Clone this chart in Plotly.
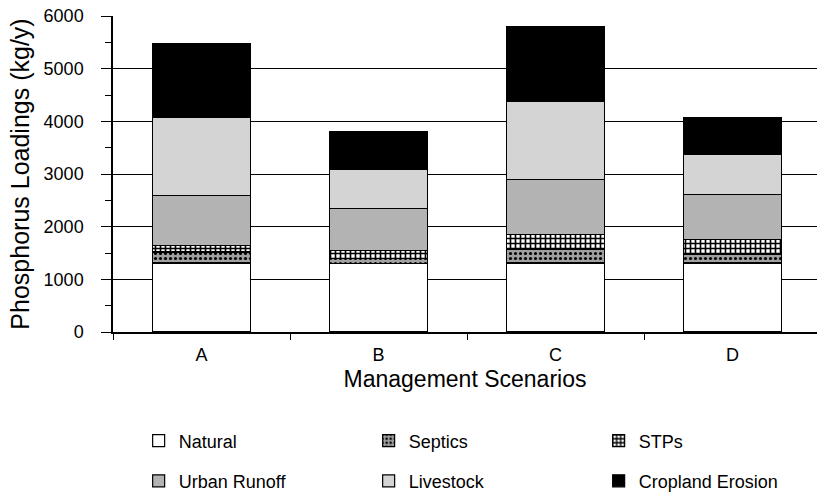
import plotly.graph_objects as go

scenarios = ["A", "B", "C", "D"]
natural = [1310, 1300, 1310, 1310]
septics = [210, 100, 250, 155]
stps = [125, 155, 290, 295]
urban_runoff = [945, 785, 1040, 855]
livestock = [1490, 740, 1495, 760]
cropland_erosion = [1400, 720, 1405, 705]

y_tickvals = [0, 1000, 2000, 3000, 4000, 5000, 6000]
x_title = "Management Scenarios"
y_title = "Phosphorus Loadings (kg/y)"

FONT = "Liberation Sans, Arial, sans-serif"
LINE = dict(color="black", width=1.2)

series = [
    ("Natural", natural, dict(color="white"), "legend"),
    ("Septics", septics, dict(color="#a0a0a0", pattern=dict(shape=".", fgcolor="black", bgcolor="#a0a0a0", size=5, solidity=0.3, fillmode="replace")), "legend"),
    ("STPs", stps, dict(color="white", pattern=dict(shape="+", fgcolor="black", bgcolor="white", size=5, solidity=0.55, fillmode="replace")), "legend"),
    ("Urban Runoff", urban_runoff, dict(color="#b3b3b3"), "legend2"),
    ("Livestock", livestock, dict(color="#d4d4d4"), "legend2"),
    ("Cropland Erosion", cropland_erosion, dict(color="black"), "legend2"),
]

fig = go.Figure()
for name, vals, marker, lg in series:
    m = dict(marker)
    m["line"] = LINE
    fig.add_trace(go.Bar(x=scenarios, y=vals, name=name, marker=m, width=0.55, legend=lg))

n = len(scenarios)
boundaries = [i - 0.5 for i in range(n)]
xr = [-0.5, n - 0.523]

legend_common = dict(orientation="h", xanchor="left", yanchor="middle", entrywidth=185,
                     entrywidthmode="pixels", font=dict(family=FONT, size=18, color="black"),
                     bgcolor="rgba(0,0,0,0)", bordercolor="rgba(0,0,0,0)", borderwidth=26,
                     traceorder="normal")

fig.update_layout(
    width=817, height=498,
    margin=dict(l=113, r=0, t=16, b=166, autoexpand=False),
    paper_bgcolor="white", plot_bgcolor="white",
    barmode="stack", bargap=0.45,
    font=dict(family=FONT, size=18, color="black"),
    legend=dict(x=-0.0005, y=-0.345, **legend_common),
    legend2=dict(x=-0.0005, y=-0.472, **legend_common),
    xaxis=dict(
        type="category", range=xr, tickson="boundaries", ticks="outside", ticklen=6,
        tickwidth=1.3, tickcolor="black", showline=True, linecolor="black", linewidth=1.5,
        showgrid=False, tickfont=dict(size=18), ticklabelstandoff=6, automargin=False,
        title=dict(text=x_title, font=dict(size=23), standoff=7),
    ),
    xaxis2=dict(
        overlaying="x", anchor="y", range=xr, tickmode="array", tickvals=boundaries,
        ticks="inside", ticklen=6, tickwidth=1.3, tickcolor="black", showticklabels=False,
        showgrid=False, showline=False, zeroline=False, automargin=False,
    ),
    yaxis=dict(
        range=[0, 6000], tickmode="array", tickvals=y_tickvals, ticks="outside", ticklen=10,
        tickwidth=1.3, tickcolor="black", showline=True, linecolor="black", linewidth=1.5,
        showgrid=True, gridcolor="black", gridwidth=1.3, zeroline=False,
        tickfont=dict(size=18), ticklabelstandoff=14, automargin=False,
        minor=dict(dtick=500, tick0=0, ticks="outside", ticklen=6, tickwidth=1.3, tickcolor="black", showgrid=False),
        title=dict(text=y_title, font=dict(size=25), standoff=7),
    ),
    yaxis2=dict(
        overlaying="y", anchor="x", range=[0, 6000], tickmode="array", tickvals=y_tickvals,
        ticks="inside", ticklen=10, tickwidth=1.3, tickcolor="black", showticklabels=False,
        showgrid=False, showline=False, zeroline=False, automargin=False,
        minor=dict(dtick=500, tick0=0, ticks="inside", ticklen=6, tickwidth=1.3, tickcolor="black", showgrid=False),
    ),
)

fig.write_html("out.html", config={"displayModeBar": False},
               post_script="document.body.style.margin='0';")
